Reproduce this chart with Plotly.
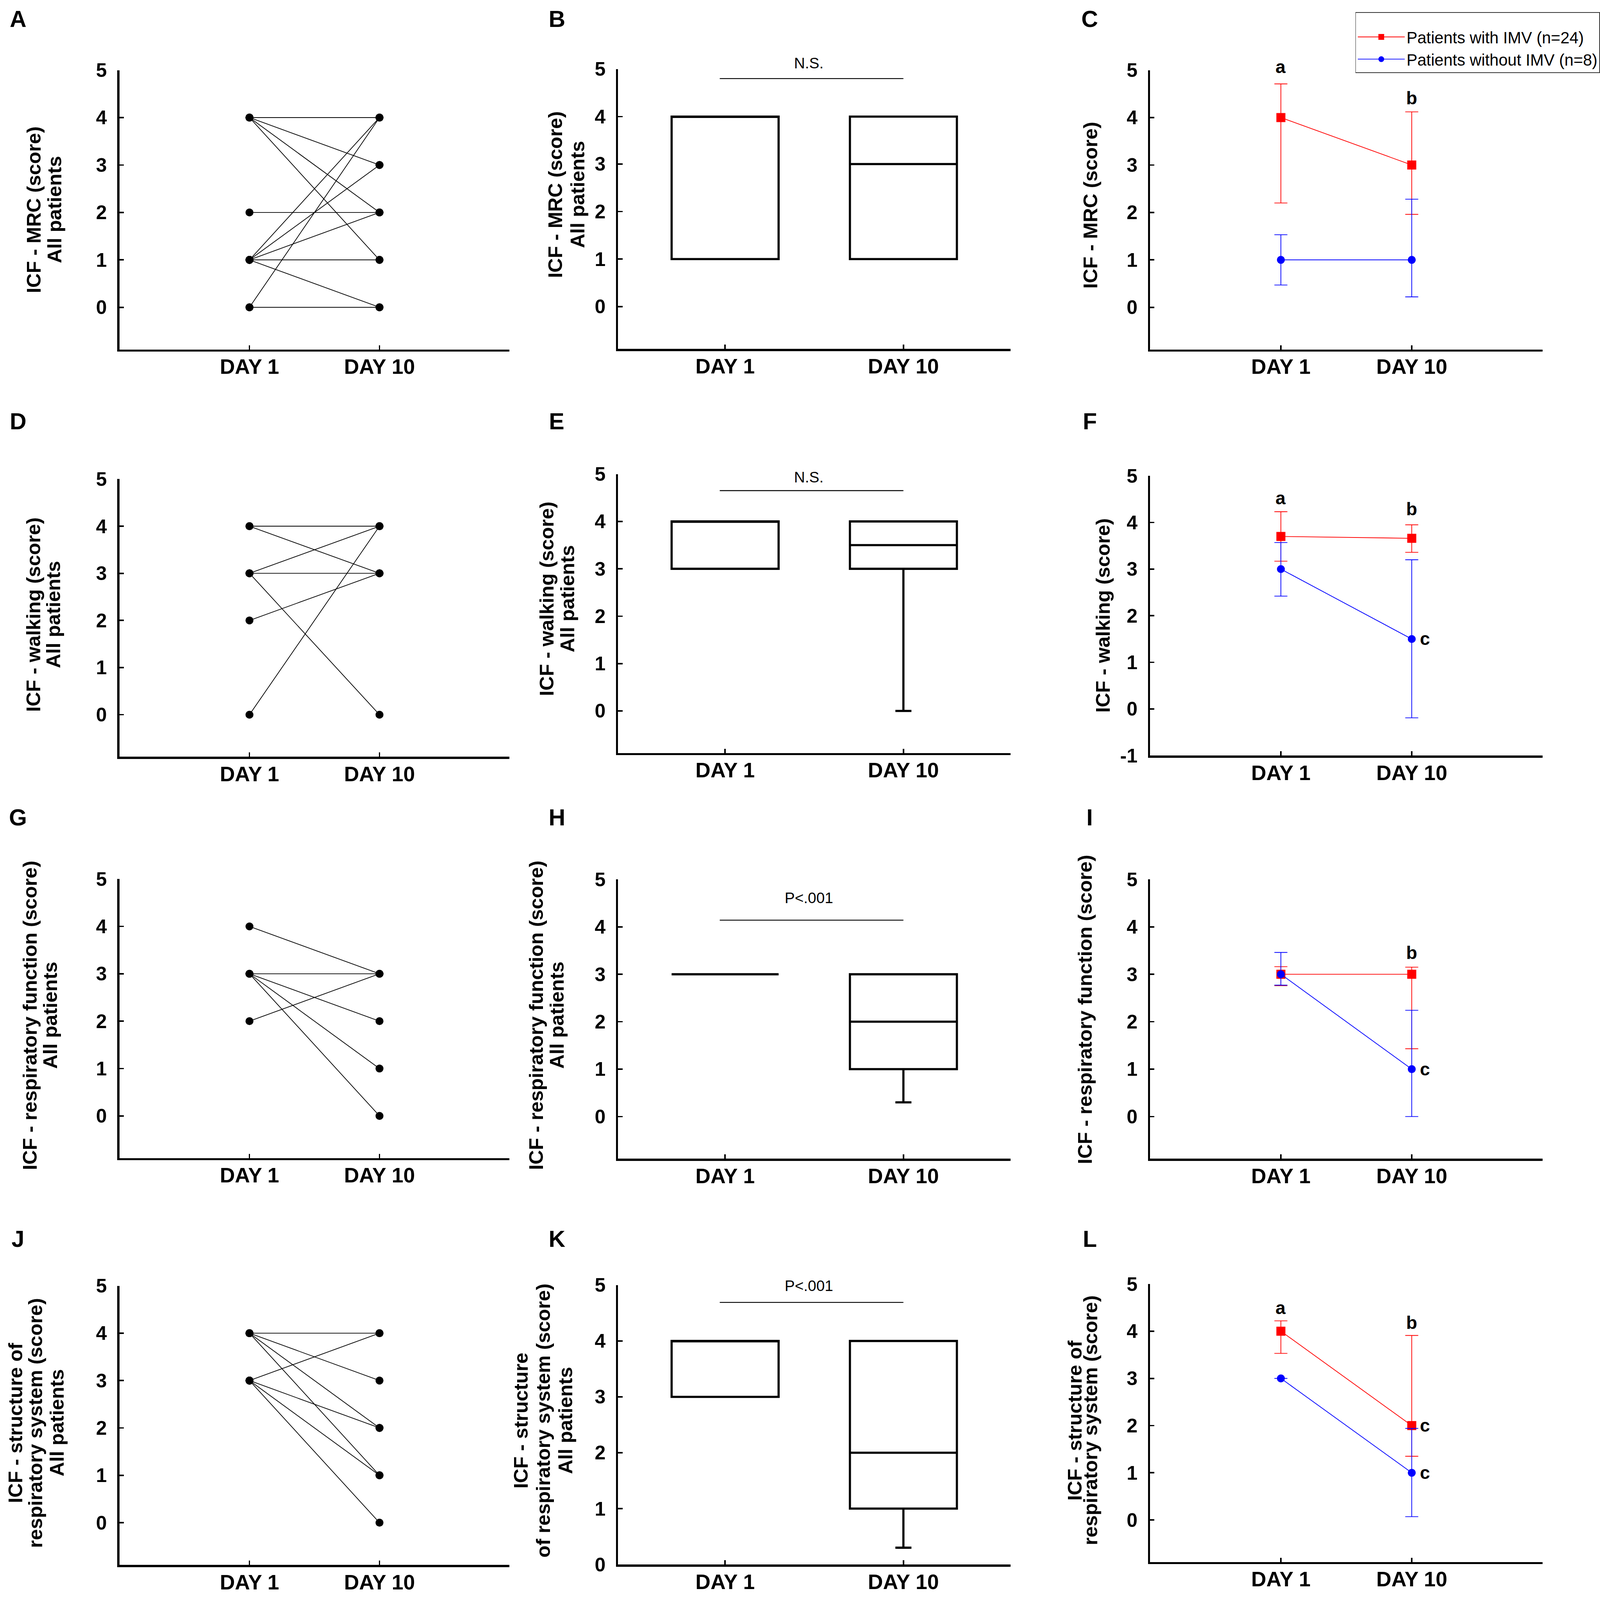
import plotly.graph_objects as go
from plotly.subplots import make_subplots

W, H = 4433, 4473
NARROW = "Liberation Sans Narrow, Arial Narrow, Liberation Sans, Arial, sans-serif"
ARIAL = "Liberation Sans, Arial, sans-serif"
RED = "#ff0000"
BLUE = "#0000ff"
UNIT_PX = 133  # about one score unit in pixels, for labels above the top of an axis

DAY_LABELS = ["DAY 1", "DAY 10"]
DAY_POS = [0, 1]

# left column: paired scores, one entry per patient line (day 1 -> day 10)
MRC_DAY1 = [4, 4, 4, 4, 2, 1, 1, 1, 1, 1, 0, 0]
MRC_DAY10 = [4, 3, 2, 1, 2, 4, 3, 2, 1, 0, 4, 0]
WALK_DAY1 = [4, 4, 3, 3, 3, 2, 0]
WALK_DAY10 = [4, 3, 4, 3, 0, 3, 4]
RESP_DAY1 = [4, 3, 3, 3, 3, 2]
RESP_DAY10 = [3, 3, 2, 1, 0, 3]
STRUCT_DAY1 = [4, 4, 4, 4, 3, 3, 3, 3]
STRUCT_DAY10 = [4, 3, 2, 1, 4, 2, 1, 0]

# middle column: box summaries [day 1, day 10]
MRC_Q1, MRC_MED, MRC_Q3 = [1, 1], [4, 3], [4, 4]
MRC_LO, MRC_HI = [1, 1], [4, 4]
WALK_Q1, WALK_MED, WALK_Q3 = [3, 3], [4, 3.5], [4, 4]
WALK_LO, WALK_HI = [3, 0], [4, 4]
RESP_Q1, RESP_MED, RESP_Q3 = [3, 1], [3, 2], [3, 3]
RESP_LO, RESP_HI = [3, 0.3], [3, 3]
STRUCT_Q1, STRUCT_MED, STRUCT_Q3 = [3, 1], [4, 2], [4, 4]
STRUCT_LO, STRUCT_HI = [3, 0.3], [4, 4]
SIG_TEXT = ["N.S.", "N.S.", "P&lt;.001", "P&lt;.001"]
SIG_BAR_Y = [4.8, 4.65, 4.14, 4.69]
SIG_TEXT_Y = [5.12, 4.94, 4.61, 4.99]

# right column: group values with error limits [day 1, day 10]
IMV_NAME = "Patients with IMV (n=24)"
NOIMV_NAME = "Patients without IMV (n=8)"
IMV_MRC, IMV_MRC_HI, IMV_MRC_LO = [4.0, 3.0], [4.71, 4.12], [2.2, 1.96]
NOIMV_MRC, NOIMV_MRC_HI, NOIMV_MRC_LO = [1.0, 1.0], [1.53, 2.28], [0.47, 0.22]
IMV_WALK, IMV_WALK_HI, IMV_WALK_LO = [3.7, 3.66], [4.23, 3.95], [3.17, 3.36]
NOIMV_WALK, NOIMV_WALK_HI, NOIMV_WALK_LO = [3.0, 1.5], [3.57, 3.2], [2.42, -0.19]
IMV_RESP, IMV_RESP_HI, IMV_RESP_LO = [3.0, 3.0], [3.16, 3.15], [2.76, 1.43]
NOIMV_RESP, NOIMV_RESP_HI, NOIMV_RESP_LO = [3.0, 1.0], [3.46, 2.24], [2.77, 0.0]
IMV_STRUCT, IMV_STRUCT_HI, IMV_STRUCT_LO = [4.0, 2.0], [4.22, 3.91], [3.53, 1.35]
NOIMV_STRUCT, NOIMV_STRUCT_HI, NOIMV_STRUCT_LO = [3.0, 1.0], [3.0, 1.94], [3.0, 0.07]

# letter marks (text, x, y) per right panel
MARKS_MRC = [("a", 0, 5.06), ("b", 1, 4.41)]
MARKS_WALK = [("a", 0, 4.52), ("b", 1, 4.29), ("c", 1.1, 1.5)]
MARKS_RESP = [("b", 1, 3.45), ("c", 1.1, 1.0)]
MARKS_STRUCT = [("a", 0, 4.49), ("b", 1, 4.18), ("c", 1.1, 2.0), ("c", 1.1, 1.0)]

YTITLE_MRC = ["ICF - MRC (score)", "All patients"]
YTITLE_WALK = ["ICF - walking (score)", "All patients"]
YTITLE_RESP = ["ICF - respiratory function (score)", "All patients"]
YTITLE_STRUCT_A = ["ICF - structure of", "respiratory system (score)", "All patients"]
YTITLE_STRUCT_B = ["ICF - structure", "of respiratory system (score)", "All patients"]

# pixel geometry of the panels: columns (left, right), rows (top of 5, x-axis line)
COLS = [(331, 1412), (1713, 2800), (3187, 4275)]
ROWS = [
    [(191, 974), (188, 972), (191, 974)],
    [(1337, 2115), (1323, 2105), (1328, 2112)],
    [(2458, 3240), (2459, 3242), (2459, 3242)],
    [(3598, 4380), (3596, 4379), (3593, 4372)],
]
LETTERS = [["A", "B", "C"], ["D", "E", "F"], ["G", "H", "I"], ["J", "K", "L"]]
LETTER_X = [50, 1543, 3020]
LETTER_Y = [48, 1176, 2286, 3466]

fig = make_subplots(rows=4, cols=3)


def px_x(v):
    return v / W


def px_y(v):
    return 1 - v / H


def data_label(x, y, text, font, row, col):
    # labels placed above the top of the axis are shifted in pixels so they stay visible
    shift = 0
    if y > 5:
        shift = (y - 5) * UNIT_PX
        y = 5
    fig.add_annotation(x=x, y=y, yshift=shift, text=text, showarrow=False,
                       xanchor="center", yanchor="middle", font=font, row=row, col=col)


def paired(row, d1, d10):
    xs, ys = [], []
    for a, b in zip(d1, d10):
        xs += [0, 1, None]
        ys += [a, b, None]
    fig.add_trace(go.Scatter(
        x=xs, y=ys, mode="lines+markers", showlegend=False,
        line=dict(color="black", width=2),
        marker=dict(color="black", size=22, symbol="circle"),
    ), row=row, col=1)


def boxes(row, q1, med, q3, lo, hi, k):
    fig.add_trace(go.Box(
        x=DAY_POS, q1=q1, median=med, q3=q3, lowerfence=lo, upperfence=hi,
        width=0.6, whiskerwidth=0.15, fillcolor="white", boxpoints=False,
        line=dict(color="black", width=6), showlegend=False,
    ), row=row, col=2)
    fig.add_shape(type="line", x0=-0.03, x1=1.0, y0=SIG_BAR_Y[k], y1=SIG_BAR_Y[k],
                  line=dict(color="black", width=2.5), row=row, col=2)
    data_label(0.47, SIG_TEXT_Y[k], SIG_TEXT[k],
               dict(family=NARROW, size=42, color="black"), row, 2)


def groups(row, imv, imv_hi, imv_lo, no, no_hi, no_lo, marks, legend):
    for vals, hi, lo, name, color, sym, size in [
        (imv, imv_hi, imv_lo, IMV_NAME, RED, "square", 25),
        (no, no_hi, no_lo, NOIMV_NAME, BLUE, "circle", 22),
    ]:
        fig.add_trace(go.Scatter(
            x=DAY_POS, y=vals, name=name, mode="lines+markers", showlegend=legend,
            line=dict(color=color, width=2),
            marker=dict(color=color, size=size, symbol=sym),
            error_y=dict(type="data", symmetric=False,
                         array=[h - v for h, v in zip(hi, vals)],
                         arrayminus=[v - l for l, v in zip(lo, vals)],
                         color=color, thickness=2, width=18),
        ), row=row, col=3)
    for t, x, y in marks:
        data_label(x, y, t, dict(family=NARROW, size=50, color="black", weight="bold"), row, 3)


paired(1, MRC_DAY1, MRC_DAY10)
paired(2, WALK_DAY1, WALK_DAY10)
paired(3, RESP_DAY1, RESP_DAY10)
paired(4, STRUCT_DAY1, STRUCT_DAY10)

boxes(1, MRC_Q1, MRC_MED, MRC_Q3, MRC_LO, MRC_HI, 0)
boxes(2, WALK_Q1, WALK_MED, WALK_Q3, WALK_LO, WALK_HI, 1)
boxes(3, RESP_Q1, RESP_MED, RESP_Q3, RESP_LO, RESP_HI, 2)
boxes(4, STRUCT_Q1, STRUCT_MED, STRUCT_Q3, STRUCT_LO, STRUCT_HI, 3)

groups(1, IMV_MRC, IMV_MRC_HI, IMV_MRC_LO, NOIMV_MRC, NOIMV_MRC_HI, NOIMV_MRC_LO, MARKS_MRC, True)
groups(2, IMV_WALK, IMV_WALK_HI, IMV_WALK_LO, NOIMV_WALK, NOIMV_WALK_HI, NOIMV_WALK_LO, MARKS_WALK, False)
groups(3, IMV_RESP, IMV_RESP_HI, IMV_RESP_LO, NOIMV_RESP, NOIMV_RESP_HI, NOIMV_RESP_LO, MARKS_RESP, False)
groups(4, IMV_STRUCT, IMV_STRUCT_HI, IMV_STRUCT_LO, NOIMV_STRUCT, NOIMV_STRUCT_HI, NOIMV_STRUCT_LO, MARKS_STRUCT, False)

tickfont = dict(family=NARROW, size=54, color="black", weight="bold")
xtickfont = dict(family=NARROW, size=58, color="black", weight="bold")
axis_common = dict(showline=True, linecolor="black", linewidth=6, showgrid=False,
                   zeroline=False, ticks="inside", ticklen=12, tickwidth=4,
                   tickcolor="black")

for r in range(4):
    for c in range(3):
        left, right = COLS[c]
        top, bot = ROWS[r][c]
        if c == 1:
            xr, xt, xl = [-0.6, 1.6], [0, 1], DAY_LABELS
        else:
            xr, xt, xl = [-1, 2], [0, 1, 2], DAY_LABELS + [""]
        fig.update_xaxes(domain=[px_x(left), px_x(right)], range=xr, tickvals=xt,
                         ticktext=xl, tickfont=xtickfont, ticklabelstandoff=-8,
                         **axis_common, row=r + 1, col=c + 1)
        if (r, c) == (1, 2):
            yr, yt = [-1, 5], [-1, 0, 1, 2, 3, 4, 5]
        elif (r, c) == (3, 1):
            yr, yt = [0, 5], [0, 1, 2, 3, 4, 5]
        else:
            yr, yt = [-0.89, 5], [0, 1, 2, 3, 4, 5]
        fig.update_yaxes(domain=[px_y(bot), px_y(top)], range=yr, tickvals=yt,
                         ticktext=[str(v) for v in yt],
                         tickfont=tickfont, ticklabelstandoff=18,
                         **axis_common, row=r + 1, col=c + 1)
        fig.add_annotation(xref="paper", yref="paper", x=px_x(LETTER_X[c]),
                           y=px_y(LETTER_Y[r]), text=LETTERS[r][c], showarrow=False,
                           xanchor="center", yanchor="middle",
                           font=dict(family=ARIAL, size=64, color="black", weight="bold"))

# y-axis titles: (lines, x centres in px, y centre in px)
YTITLES = [
    (YTITLE_MRC, [94, 151], 582), (YTITLE_MRC, [1539, 1600], 540), (["ICF - MRC (score)"], [3022], 570),
    (YTITLE_WALK, [92, 148], 1717), (YTITLE_WALK, [1515, 1572], 1673), (["ICF - walking (score)"], [3056], 1719),
    (YTITLE_RESP, [83, 139], 2840), (YTITLE_RESP, [1486, 1543], 2840), (["ICF - respiratory function (score)"], [3007], 2823),
    (YTITLE_STRUCT_A, [42, 98, 157], 3982), (YTITLE_STRUCT_B, [1443, 1505, 1567], 3976),
    (["ICF - structure of", "respiratory system (score)"], [2978, 3022], 3975),
]
for lines, xs, yc in YTITLES:
    for text, x in zip(lines, xs):
        fig.add_annotation(xref="paper", yref="paper", x=px_x(x), y=px_y(yc), text=text,
                           textangle=-90, showarrow=False, xanchor="center", yanchor="middle",
                           font=dict(family=ARIAL, size=55, color="black", weight="bold"))

fig.update_layout(
    width=W, height=H,
    margin=dict(l=0, r=0, t=0, b=0),
    paper_bgcolor="white", plot_bgcolor="white",
    legend=dict(x=px_x(3756), y=px_y(28), xanchor="left", yanchor="top",
                bordercolor="#333333", borderwidth=2, bgcolor="white",
                font=dict(family=NARROW, size=45, color="black"),
                itemwidth=130, title=dict(text=" ", font=dict(size=24))),
)

# fit the fixed-size figure to the viewport; the photo keeps a thin band top and
# bottom, so the vertical scale leaves room for it
FIT_JS = """
var gd = document.getElementById('{plot_id}');
var W = %d, H = %d, PAD = 24.5;
var sx = window.innerWidth / W;
var sy = window.innerHeight / (H - 2 * PAD);
document.documentElement.style.margin = '0';
document.body.style.margin = '0';
document.body.style.overflow = 'hidden';
gd.style.position = 'absolute';
gd.style.left = '0px';
gd.style.top = '0px';
gd.style.transformOrigin = '0 0';
gd.style.transform = 'translate(0px,' + (-PAD * sy) + 'px) scale(' + sx + ',' + sy + ')';
""" % (W, H)

fig.write_html("out.html", post_script=FIT_JS, config={"displayModeBar": False})
